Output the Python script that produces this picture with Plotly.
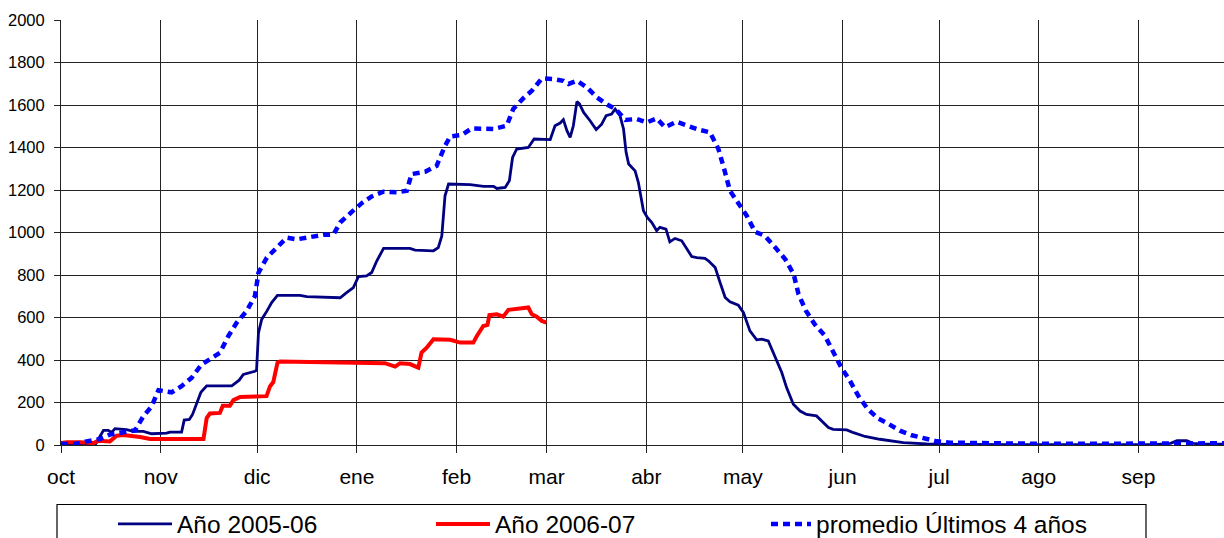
import plotly.graph_objects as go
import numpy as np

# Month axis (hydrological year starting in October)
months = ['oct', 'nov', 'dic', 'ene', 'feb', 'mar', 'abr', 'may', 'jun', 'jul', 'ago', 'sep']
month_days = [31, 30, 31, 31, 28, 31, 30, 31, 30, 31, 31, 30]

# Año 2005-06 (day of hydrological year, value)
d_2005 = [0, 10.6, 12.1, 13.2, 14.7, 15.7, 16.8, 20.4, 22.5, 25.6, 28.2, 30.8, 32.8, 33.9, 37.5, 38.3,
          39.9, 40.9, 42.2, 43.5, 45.3, 53.1, 55.4, 56.7, 60.3, 60.8, 61.4, 62.4, 64.0, 65.5, 67.3, 74.3,
          76.4, 86.8, 88.8, 90.9, 92.5, 95.0, 96.6, 98.2, 100.3, 108.5, 110.1, 115.8, 117.3, 118.4, 119.4,
          120.5, 127.2, 131.4, 134.5, 135.5, 138.1, 139.4, 140.4, 141.7, 145.3, 147.1, 152.1, 153.6, 155.2,
          156.2, 157.3, 158.3, 159.3, 160.4, 161.2, 162.5, 164.5, 166.4, 168.1, 169.5, 171.2, 172.3, 173.8,
          174.9, 175.7, 176.5, 178.5, 179.5, 181.1, 182.3, 183.7, 185.2, 186.2, 188.1, 189.3, 190.9, 193.0,
          194.5, 196.1, 197.7, 200.2, 201.3, 203.4, 204.9, 206.5, 208.0, 210.6, 212.2, 214.2, 216.3, 217.9,
          219.9, 222.0, 224.1, 225.6, 227.7, 229.8, 231.8, 234.9, 236.5, 238.6, 240.1, 244.3, 246.4, 250.0,
          254.6, 257.7, 261.9, 269.2, 276.4, 300, 340, 345, 347, 350, 352, 355, 361.6]
v_2005 = [0, 0, 40, 69, 69, 59, 77, 72, 64, 64, 53, 56, 56, 61, 61, 117,
          120, 144, 200, 248, 278, 278, 305, 332, 347, 352, 528, 591, 630, 670, 704, 704,
          698, 693, 717, 741, 793, 796, 812, 867, 925, 925, 917, 914, 929, 984, 1173,
          1228, 1225, 1217, 1217, 1207, 1212, 1243, 1353, 1393, 1400, 1440, 1437, 1502, 1515,
          1531, 1479, 1448, 1502, 1616, 1605, 1565, 1526, 1484, 1510, 1550, 1557, 1581, 1550,
          1487, 1377, 1322, 1290, 1236, 1102, 1071, 1047, 1008, 1024, 1016, 956, 972, 961,
          922, 887, 882, 878, 867, 835, 765, 694, 674, 658, 623, 537, 495, 498,
          490, 411, 341, 270, 192, 160, 144, 137, 113, 82, 74, 71, 58, 40,
          27, 19, 11, 5, 3, 2, 2, 8, 20, 20, 8, 4, 4]

# Año 2006-07
d_2006 = [0, 1.8, 6, 10.1, 11.6, 15.2, 17.3, 19.4, 24.6, 27.7, 44.3, 45.3, 46.3, 49.4, 50.3, 52.5,
          53.6, 55.7, 63.9, 65.0, 66.0, 67.3, 68.1, 86.8, 94.0, 100.7, 103.9, 105.4, 108.5, 111.1,
          112.1, 113.7, 115.8, 121.0, 124.1, 128.2, 129.3, 131.3, 132.6, 133.2, 135.5, 137.5, 139.1,
          141.2, 142.7, 145.3, 146.4, 147.9, 149.5, 150.9]
v_2006 = [9, 13, 13, 9, 20, 17, 44, 47, 38, 28, 28, 127, 148, 151, 185, 185,
          211, 226, 230, 277, 296, 387, 393, 390, 388, 385, 369, 385, 381, 364,
          435, 458, 498, 495, 482, 482, 513, 560, 565, 611, 615, 604, 636,
          639, 642, 647, 615, 604, 584, 576]

# promedio Últimos 4 años
d_prom = [0, 3.9, 8.0, 12.1, 15.2, 19.4, 23.0, 25.6, 28.2, 30.3, 34.4, 37.5, 40.6, 43.7, 46.8, 49.4,
          52.0, 54.6, 57.7, 60.3, 61.4, 64.0, 67.1, 70.2, 73.3, 77.4, 81.6, 84.7, 86.8, 90.4, 93.5,
          96.6, 100.2, 104.4, 107.5, 109.0, 113.2, 116.8, 119.4, 121.0, 124.6, 127.7, 134.5, 138.6,
          140.6, 143.7, 146.4, 149.5, 153.1, 156.2, 157.8, 160.4, 163.5, 166.6, 169.7, 172.5, 175.5,
          179.0, 182.1, 185.2, 187.8, 191.4, 194.5, 198.2, 201.8, 204.4, 206.2, 208.0, 210.6, 213.2,
          215.8, 218.9, 222.1, 225.2, 227.8, 229.3, 231.6, 234.4, 237.5, 240.1, 242.6, 245.3, 247.9,
          250.8, 254.0, 257.3, 261.0, 264.5, 268.1, 271.8, 276.4, 286.8, 302.3, 323, 344, 361.6]
v_prom = [6, 4, 17, 28, 49, 60, 69, 135, 182, 258, 248, 277, 316, 379, 410, 434,
          512, 575, 630, 701, 811, 882, 929, 976, 968, 981, 989, 990, 1047, 1097, 1138,
          1170, 1192, 1189, 1196, 1275, 1286, 1314, 1408, 1452, 1459, 1490, 1487, 1503,
          1581, 1631, 1667, 1725, 1722, 1714, 1699, 1714, 1683, 1636, 1603, 1580, 1530,
          1534, 1518, 1537, 1495, 1521, 1503, 1484, 1471, 1393, 1298, 1196, 1138, 1079,
          1003, 984, 929, 874, 804, 710, 632, 567, 514, 435, 365, 302, 231,
          170, 125, 99, 66, 46, 30, 19, 11, 8, 6, 6, 8, 8]

month_starts = list(np.concatenate([[0], np.cumsum(month_days)[:-1]]))

FONT = "Liberation Sans, Arial, sans-serif"

fig = go.Figure()
fig.add_trace(go.Scatter(x=d_2005, y=v_2005, mode='lines', name='Año 2005-06',
                         line=dict(color='#000080', width=2.8), legend='legend'))
fig.add_trace(go.Scatter(x=d_2006, y=v_2006, mode='lines', name='Año 2006-07',
                         line=dict(color='#FF0000', width=4), legend='legend2'))
fig.add_trace(go.Scatter(x=d_prom, y=v_prom, mode='lines', name='promedio Últimos 4 años',
                         line=dict(color='#0000FF', width=4.5, dash='7px,5px'), legend='legend3'))

leg_common = dict(orientation='h', yanchor='middle', xanchor='left', bgcolor='rgba(0,0,0,0)',
                  borderwidth=0, font=dict(family=FONT, size=24.5, color='black'))
leg_y = (445 - 524) / 425

fig.update_layout(
    width=1224, height=538,
    margin=dict(l=61, r=0, t=20, b=93, autoexpand=False),
    paper_bgcolor='white', plot_bgcolor='white',
    xaxis=dict(range=[0, 361.6], tickvals=month_starts, ticktext=months,
               showgrid=True, gridcolor='#222', gridwidth=1, automargin=False,
               ticks='outside', ticklen=7, tickcolor='#222', ticklabelstandoff=6,
               showline=True, linecolor='#222', linewidth=1,
               tickfont=dict(family=FONT, size=21, color='black'), zeroline=False),
    yaxis=dict(range=[0, 2000], dtick=200, tick0=0, automargin=False,
               showgrid=True, gridcolor='#222', gridwidth=1,
               ticks='outside', ticklen=6, tickcolor='#222', ticklabelstandoff=6,
               showline=True, linecolor='#222', linewidth=1,
               tickfont=dict(family=FONT, size=16.5, color='black'), zeroline=False),
    legend=dict(x=(113 - 61) / 1163, y=leg_y, itemwidth=54, **leg_common),
    legend2=dict(x=(431 - 61) / 1163, y=leg_y, itemwidth=54, **leg_common),
    legend3=dict(x=(766 - 61) / 1163, y=leg_y, itemwidth=40, **leg_common),
    shapes=[dict(type='rect', xref='paper', yref='paper',
                 x0=(57 - 61) / 1163, x1=(1146 - 61) / 1163,
                 y0=(445 - 548) / 425, y1=(445 - 504.5) / 425,
                 line=dict(color='black', width=1.2), fillcolor='rgba(0,0,0,0)')],
    showlegend=True,
)

fig.write_html("out.html", config={'displayModeBar': False},
               post_script="document.body.style.margin='0';document.body.style.overflow='hidden';")
